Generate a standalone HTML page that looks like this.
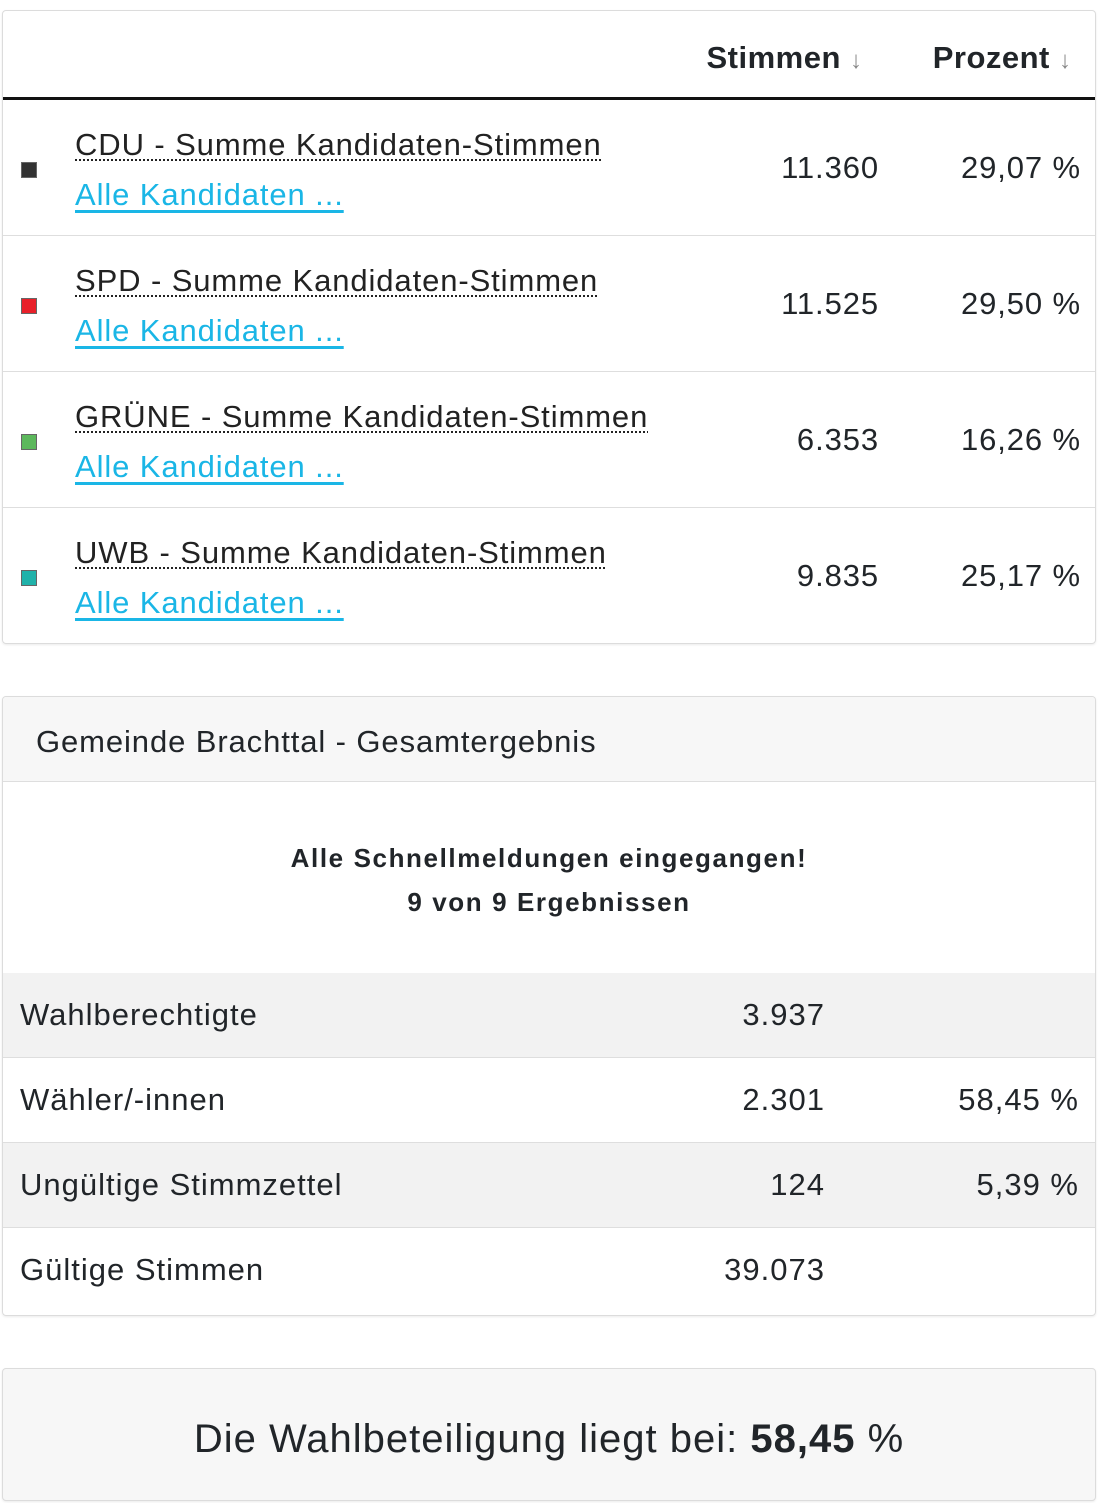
<!DOCTYPE html>
<html><head><meta charset="utf-8">
<style>
body{margin:0;background:#fff;font-family:"Liberation Sans",sans-serif;color:#212529;width:1100px;height:1503px;overflow:hidden;position:relative}
.card{position:absolute;left:2px;width:1094px;border:1px solid #dcdcdc;border-radius:4px;box-sizing:border-box;box-shadow:0 1px 2px rgba(0,0,0,.08);overflow:hidden}
table{border-collapse:collapse;width:100%;table-layout:fixed}
.th td{height:79px;border-bottom:3px solid #111;font-weight:bold;font-size:31px;text-align:right;padding-top:7px;padding-bottom:0;letter-spacing:0.5px}
.arr{color:#888;font-weight:normal;font-size:24px;letter-spacing:0}
.prow td{height:131px;padding:0;border-top:1px solid #dedede;font-size:31px;vertical-align:middle;letter-spacing:0.9px}
.sq{display:inline-block;width:16px;height:16px;border:1px solid #666;box-sizing:border-box}
.nm{text-decoration:underline dotted;text-underline-offset:5px;text-decoration-thickness:2px;color:#222}
.lk{color:#1ab6e6;text-decoration:underline;text-underline-offset:5px}
.txt{line-height:50px;padding-top:4px!important}
.num{text-align:right}
.srow td{height:84px;padding:0;border-top:1px solid #dedede;font-size:31px;letter-spacing:1px}
.g{background:#f2f2f2}
</style></head><body>
<div class="card" style="top:10px;height:634px">
<table>
<colgroup><col style="width:72px"><col><col style="width:235px"><col style="width:205px"></colgroup>
<tr class="th">
<td></td><td></td>
<td style="padding-right:28px">Stimmen <span class="arr">↓</span></td>
<td style="padding-right:24px">Prozent <span class="arr">↓</span></td></tr>
<tr class="prow"><td style="padding-left:18px"><span class="sq" style="background:#333"></span></td><td class="txt"><span class="nm">CDU - Summe Kandidaten-Stimmen</span><br><a class="lk">Alle Kandidaten ...</a></td><td class="num" style="padding-right:11px">11.360</td><td class="num" style="padding-right:14px">29,07 %</td></tr>
<tr class="prow"><td style="padding-left:18px"><span class="sq" style="background:#e8202a"></span></td><td class="txt"><span class="nm">SPD - Summe Kandidaten-Stimmen</span><br><a class="lk">Alle Kandidaten ...</a></td><td class="num" style="padding-right:11px">11.525</td><td class="num" style="padding-right:14px">29,50 %</td></tr>
<tr class="prow"><td style="padding-left:18px"><span class="sq" style="background:#5cb85c"></span></td><td class="txt"><span class="nm">GRÜNE - Summe Kandidaten-Stimmen</span><br><a class="lk">Alle Kandidaten ...</a></td><td class="num" style="padding-right:11px">6.353</td><td class="num" style="padding-right:14px">16,26 %</td></tr>
<tr class="prow"><td style="padding-left:18px"><span class="sq" style="background:#20b2aa"></span></td><td class="txt"><span class="nm">UWB - Summe Kandidaten-Stimmen</span><br><a class="lk">Alle Kandidaten ...</a></td><td class="num" style="padding-right:11px">9.835</td><td class="num" style="padding-right:14px">25,17 %</td></tr>
</table></div>

<div class="card" style="top:696px;height:620px">
<div style="height:85px;background:#f7f7f7;border-bottom:1px solid #dedede;font-size:31px;letter-spacing:0.9px;line-height:90px;padding-left:33px;box-sizing:border-box">Gemeinde Brachttal - Gesamtergebnis</div>
<div style="height:191px;text-align:center;font-weight:bold;font-size:26px;letter-spacing:1.6px;line-height:44px;padding-top:54px;box-sizing:border-box">Alle Schnellmeldungen eingegangen!<br>9 von 9 Ergebnissen</div>
<table>
<colgroup><col><col style="width:300px"><col style="width:270px"></colgroup>
<tr class="srow g"><td style="padding-left:17px;border-top:none">Wahlberechtigte</td><td class="num" style="border-top:none">3.937</td><td class="num" style="padding-right:16px;border-top:none"></td></tr>
<tr class="srow"><td style="padding-left:17px">Wähler/-innen</td><td class="num">2.301</td><td class="num" style="padding-right:16px">58,45 %</td></tr>
<tr class="srow g"><td style="padding-left:17px">Ungültige Stimmzettel</td><td class="num">124</td><td class="num" style="padding-right:16px">5,39 %</td></tr>
<tr class="srow"><td style="padding-left:17px">Gültige Stimmen</td><td class="num">39.073</td><td class="num" style="padding-right:16px"></td></tr>
</table></div>

<div class="card" style="top:1368px;height:133px;background:#f7f7f7;text-align:center;font-size:40px;letter-spacing:1px;line-height:140px">Die Wahlbeteiligung liegt bei: <b>58,45</b> %</div>
</body></html>
